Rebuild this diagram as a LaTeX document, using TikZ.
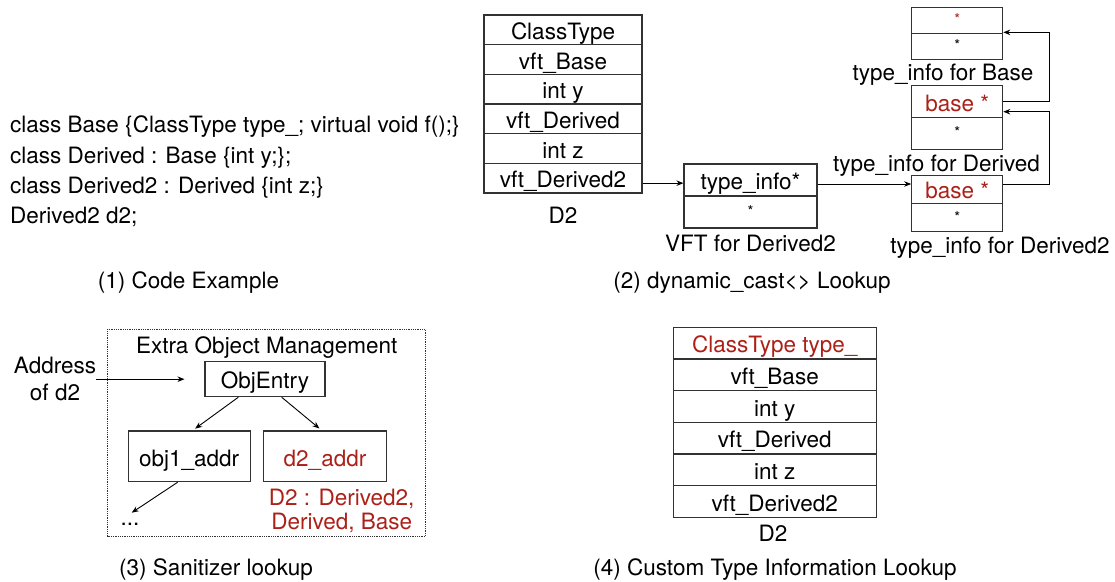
\documentclass[tikz,border=0pt]{standalone}
\usepackage{fontspec}
\setmainfont{TeX Gyre Heros}
\usetikzlibrary{arrows.meta}
\definecolor{dred}{RGB}{172,32,24}
\definecolor{ln}{RGB}{50,50,50}
\tikzset{
  mtxt/.style={inner sep=0pt, font=\fontsize{22.5}{27}\selectfont, text=black},
  txt/.style={mtxt, text height=16pt, text depth=0pt},
  cell/.style={draw=ln, line width=1.1pt, inner sep=0pt, font=\fontsize{22.5}{27}\selectfont, text height=19.5pt, text depth=0pt},
  small/.style={font=\fontsize{15}{18}\selectfont, text height=9pt, text depth=0pt},
  arr/.style={draw=black, line width=0.9pt, -{Stealth[length=7pt,width=5.5pt]}},
}
\begin{document}
\begin{tikzpicture}[x=1pt,y=-1pt]
\useasboundingbox (0,0) rectangle (1115,581);
% (1) code
\node[txt, anchor=west] (c1) at (10,124) {class Base \{ClassType type\_; virtual void f();\}};
\node[txt, anchor=west] (c2) at (10,155) {class Derived : Base \{int y;\};};
\node[txt, anchor=west] (c3) at (10,185) {class Derived2 : Derived \{int z;\}};
\node[txt, anchor=west] (c4) at (10,215) {Derived2 d2;};
\node[txt] (cap1) at (188.5,280) {(1) Code Example};
% (2) D2 object
\foreach \i/\t [count=\k] in {29.83/ClassType,59.5/vft\_Base,89.17/int y,118.83/vft\_Derived,148.5/int z,178.17/vft\_Derived2}
  \node[cell, minimum width=158pt, minimum height=29.67pt] (d2r\k) at (563,\i) {\t};
\node[txt] (d2lab) at (563,215) {D2};
% VFT
\node[cell, minimum width=133pt, minimum height=32pt] (vft1) at (750.5,180) {type\_info*};
\node[cell, small, minimum width=133pt, minimum height=32pt] (vft2) at (750.5,212) {*};
\node[txt] (vftlab) at (750.5,243) {VFT for Derived2};
% type_info for Base
\node[cell, small, text=dred, minimum width=91pt, minimum height=26pt] (tb1) at (957.2,20.3) {*};
\node[cell, small, minimum width=91pt, minimum height=26pt] (tb2) at (957.2,46.3) {*};
\node[txt] (tblab) at (943,72) {type\_info for Base};
% type_info for Derived
\node[cell, text=dred, minimum width=91pt, minimum height=32pt] (td1) at (957.2,101.3) {base *};
\node[cell, small, minimum width=91pt, minimum height=32pt] (td2) at (957.2,133.3) {*};
\node[txt] (tdlab) at (936.5,163) {type\_info for Derived};
% type_info for Derived2
\node[cell, text=dred, minimum width=91pt, minimum height=28.3pt] (tdd1) at (957.2,189.2) {base *};
\node[cell, small, minimum width=91pt, minimum height=28.3pt] (tdd2) at (957.2,217.5) {*};
\node[txt] (tddlab) at (1000,245) {type\_info for Derived2};
% arrows (2)
\draw[arr] ([yshift=-5pt]d2r6.east) -- ([yshift=-5pt]d2r6.east -| vft1.west);
\draw[arr] ([yshift=-4pt]vft1.east) -- ([yshift=-4pt]vft1.east -| tdd1.west);
\draw[arr] (td1.east) -- ++(46.5,0) |- ([yshift=1.5pt]tb1.south east);
\draw[arr] ([yshift=5pt]tdd1.east) -- ++(46.5,0) |- ([yshift=-10.4pt]td1.east);
\node[txt] (cap2) at (752,280) {(2) dynamic\_cast{<}{>} Lookup};
% (3) sanitizer
\draw[ln, line width=0.8pt, densely dotted] (107.7,329.3) rectangle (425,536.7);
\node[txt] (eom) at (266.7,345) {Extra Object Management};
\node[cell, minimum width=120pt, minimum height=35pt] (obj) at (265,379.2) {ObjEntry};
\node[mtxt, align=center] (addr) at (55,379) {Address\\of d2};
\node[cell, minimum width=121.7pt, minimum height=50.7pt] (obj1) at (189.2,456.3) {obj1\_addr};
\node[cell, text=dred, minimum width=123.3pt, minimum height=50.7pt] (d2a) at (325,456.3) {d2\_addr};
\node[mtxt, text=dred, align=center, font=\fontsize{22.5}{24.3}\selectfont] (d2t) at (341.7,511) {D2 : Derived2,\\Derived, Base};
\node[txt] (dots) at (130,517) {...};
\coordinate (dotsend) at (131.7,512.7);
\draw[arr] (addr.east |- obj.west) -- ([xshift=-20pt]obj.west);
\draw[arr, shorten >=3pt] ([xshift=-26.7pt]obj.south) -- ([xshift=3.5pt]obj1.north);
\draw[arr, shorten >=3pt] ([xshift=16.7pt]obj.south) -- ([xshift=-3.3pt]d2a.north);
\draw[arr] ([xshift=-11.5pt]obj1.south) -- (dotsend);
\node[txt] (cap3) at (216,567) {(3) Sanitizer lookup};
% (4) custom type info
\foreach \i/\t [count=\k] in {343.2/{\textcolor{dred}{ClassType type\_}},374.8/vft\_Base,406.5/int y,438.2/vft\_Derived,469.8/int z,501.5/vft\_Derived2}
  \node[cell, minimum width=202.7pt, minimum height=31.67pt] (cr\k) at (774.7,\i) {\t};
\node[txt] (crlab) at (773,533) {D2};
\node[txt] (cap4) at (775,567) {(4) Custom Type Information Lookup};
\end{tikzpicture}
\end{document}
